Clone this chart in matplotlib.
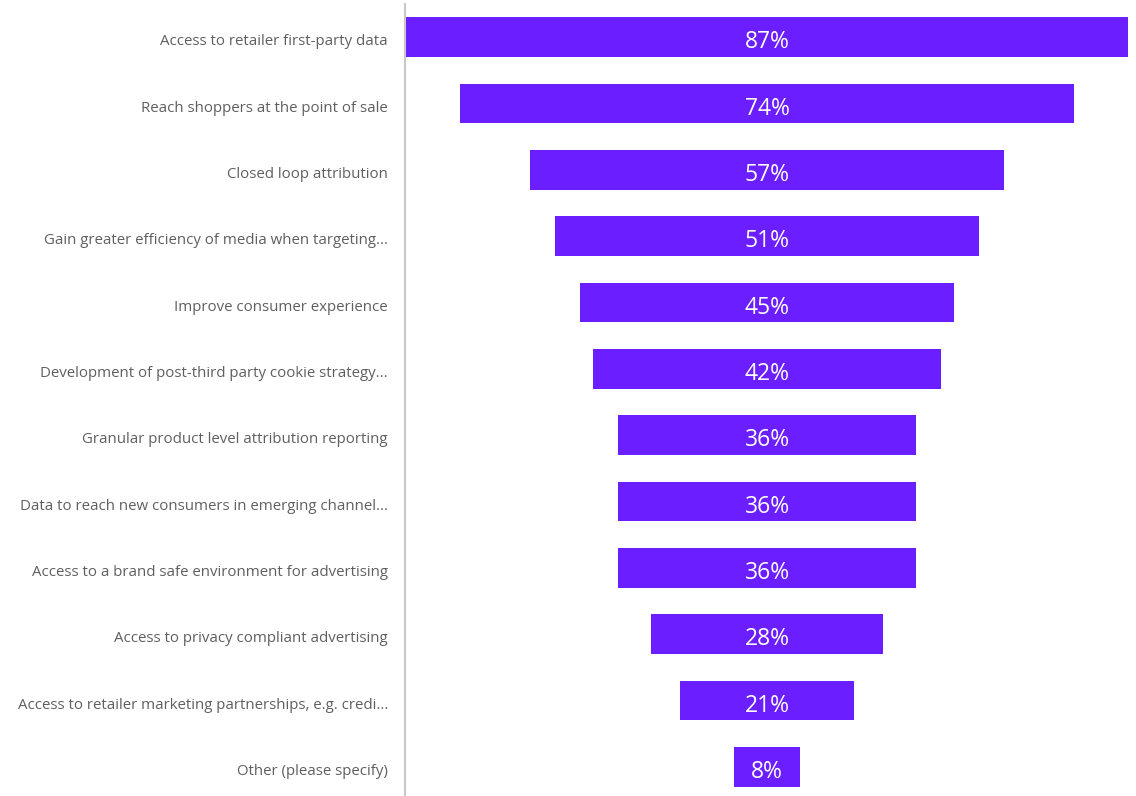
import matplotlib
matplotlib.use("Agg")
import matplotlib.pyplot as plt
from matplotlib.transforms import blended_transform_factory, offset_copy

categories = [
    "Access to retailer first-party data",
    "Reach shoppers at the point of sale",
    "Closed loop attribution",
    "Gain greater efficiency of media when targeting...",
    "Improve consumer experience",
    "Development of post-third party cookie strategy...",
    "Granular product level attribution reporting",
    "Data to reach new consumers in emerging channel...",
    "Access to a brand safe environment for advertising",
    "Access to privacy compliant advertising",
    "Access to retailer marketing partnerships, e.g. credi...",
    "Other (please specify)",
]
values = [87, 74, 57, 51, 45, 42, 36, 36, 36, 28, 21, 8]

BAR_COLOR = "#6B1EFF"
LABEL_COLOR = "#5F5F5F"

plt.rcParams["font.family"] = ["Open Sans", "DejaVu Sans"]

W, H = 1136, 796
fig = plt.figure(figsize=(W / 100, H / 100), dpi=100)
ax = fig.add_axes([406 / W, 0, (1128 - 406) / W, (H - 4) / H])

vmax = max(values)
ys = list(range(len(values)))
lefts = [-v / 2 for v in values]
ax.barh(ys, values, left=lefts, height=0.6, color=BAR_COLOR)

# value labels inside the bars
for y, v in zip(ys, values):
    ax.text(0, y + 0.08, f"{v}%", ha="center", va="center", color="white", fontsize=16.5)

# category labels to the left of the axis line
lbl_tf = offset_copy(blended_transform_factory(ax.transAxes, ax.transData),
                     fig=fig, x=-18, y=0, units="dots")
for y, name in zip(ys, categories):
    ax.text(0, y + 0.07, name, ha="right", va="center", color=LABEL_COLOR,
            fontsize=10.85, transform=lbl_tf)

ax.set_xlim(-vmax / 2, vmax / 2)
ax.set_ylim(11.44, -0.5)
ax.set_yticks([])
ax.set_xticks([])

for s in ["top", "right", "bottom"]:
    ax.spines[s].set_visible(False)
ax.spines["left"].set_color("#C8C8C8")
ax.spines["left"].set_linewidth(1.5)
ax.spines["left"].set_position(("outward", 1))

fig.savefig("out.png", dpi=100)
